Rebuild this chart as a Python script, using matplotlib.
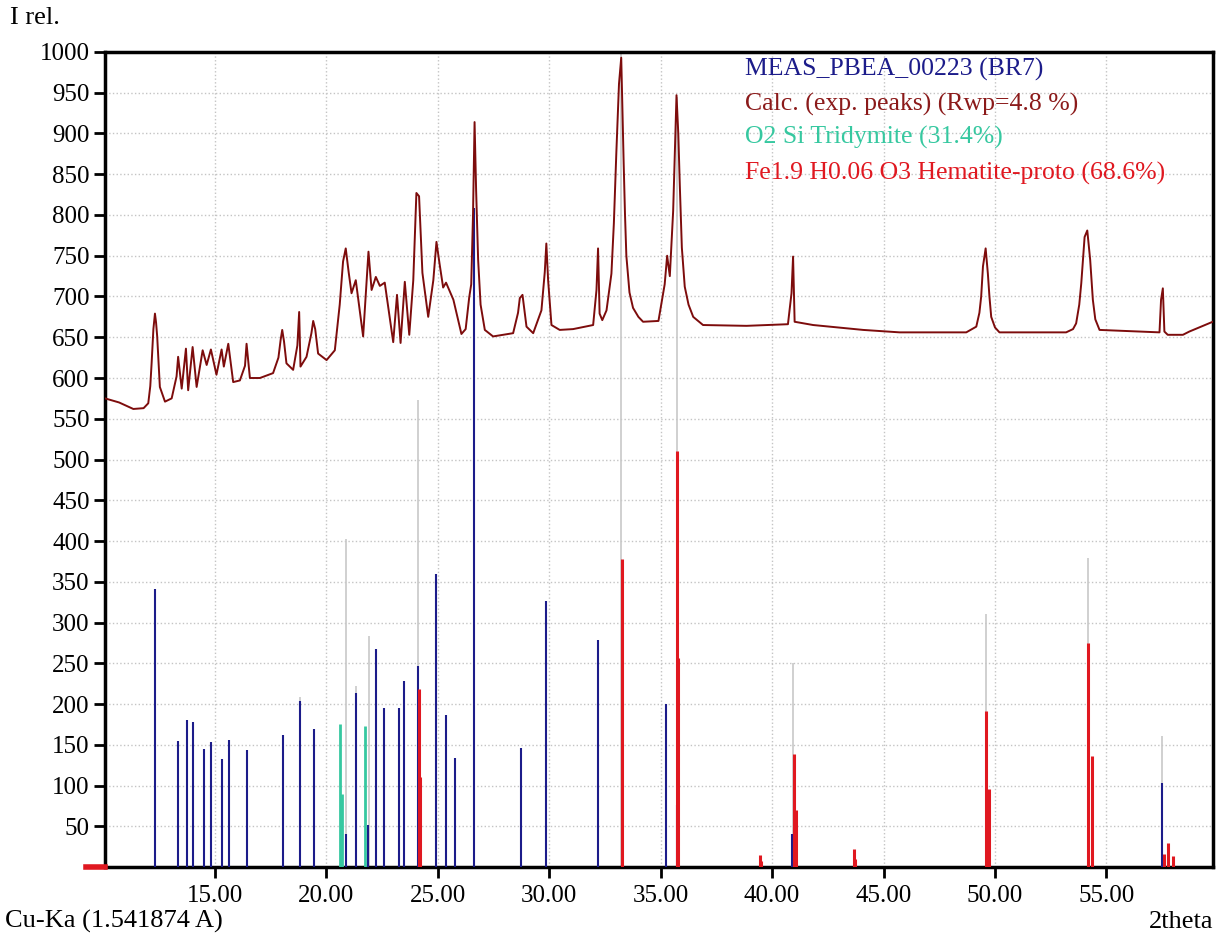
import matplotlib
matplotlib.use("Agg")
import matplotlib.pyplot as plt

plt.rcParams['font.family'] = ['Liberation Serif', 'DejaVu Serif']

# calculated profile (2theta, I rel.)
calc_2theta = [10.07, 10.7, 11.34, 11.8, 12.01, 12.10, 12.16, 12.24, 12.31, 12.36, 12.41, 12.53, 12.76,
               13.06, 13.28, 13.35, 13.51, 13.70, 13.80, 14.00, 14.18, 14.45, 14.63,
               14.82, 15.07, 15.30, 15.40, 15.60, 15.82, 16.12, 16.35, 16.42, 16.57, 17.02,
               17.61, 17.85, 17.95, 18.02, 18.10, 18.21, 18.51, 18.70, 18.78, 18.84, 19.11, 19.33, 19.41, 19.50, 19.63,
               20.01, 20.38, 20.60, 20.75, 20.87, 21.00, 21.13, 21.32, 21.65, 21.89, 22.03, 22.22,
               22.40, 22.62, 23.00, 23.17, 23.33, 23.52, 23.72, 23.90, 24.04, 24.16, 24.31,
               24.57, 24.80, 24.94, 25.08, 25.24, 25.37, 25.70, 26.06, 26.25, 26.41, 26.50, 26.58, 26.65,
               26.72, 26.81, 26.92, 27.11, 27.48, 28.38, 28.60, 28.68, 28.80, 28.90, 28.98, 29.28, 29.65, 29.80, 29.87,
               29.95, 30.10, 30.47, 31.07, 31.97, 32.12, 32.19, 32.26, 32.38, 32.57, 32.79, 32.90,
               33.01, 33.13, 33.23, 33.34, 33.40, 33.46, 33.60, 33.76, 34.00, 34.21, 34.90, 35.18, 35.29,
               35.41, 35.56, 35.64, 35.71, 35.79, 35.86, 35.95, 36.08, 36.25, 36.46, 36.90, 38.85, 40.71, 40.87,
               40.94, 41.01, 41.84, 44.08, 45.72, 48.71, 49.16, 49.30, 49.38, 49.46, 49.58,
               49.68, 49.75, 49.83, 50.00, 50.20, 53.19, 53.50, 53.64, 53.78, 53.87, 54.02, 54.14, 54.27, 54.33, 54.39,
               54.50, 54.69, 57.38, 57.45, 57.53, 57.60, 57.75, 58.43, 58.72, 59.77]
calc_int = [575, 570, 562, 563, 569, 590, 618, 660, 679, 668, 651, 589, 571,
            575, 602, 626, 587, 636, 585, 638, 589, 634, 616,
            635, 604, 635, 614, 642, 595, 597, 615, 642, 600, 600,
            606, 625, 647, 659, 645, 618, 610, 640, 681, 614, 626, 655, 670, 660, 630,
            622, 634, 690, 743, 759, 730, 704, 720, 651, 755, 708, 724,
            713, 717, 644, 702, 643, 718, 653, 720, 827, 823, 729,
            675, 720, 767, 740, 711, 717, 696, 654, 660, 699, 715, 800, 914,
            830, 745, 690, 659, 651, 655, 680, 698, 702, 680, 663, 655, 683, 730, 765,
            720, 665, 659, 660, 665, 708, 759, 679, 671, 683, 728, 790,
            876, 961, 993, 863, 800, 750, 705, 686, 675, 669, 670, 715, 750,
            725, 805, 880, 947, 900, 835, 760, 712, 690, 675, 665, 664, 666, 704,
            749, 669, 665, 659, 656, 656, 663, 680, 700, 737, 759,
            728, 700, 675, 662, 656, 656, 660, 667, 690, 716, 773, 781, 745, 720, 696,
            672, 659, 656, 696, 710, 657, 653, 653, 657, 669]

# measured peak positions (navy sticks)
meas_2theta = [12.31, 13.35, 13.73, 14.00, 14.49, 14.82, 15.33, 15.61, 16.45, 18.06,
               18.81, 19.45, 20.90, 21.33, 21.89, 22.24, 22.60, 23.24, 23.50, 24.13,
               24.91, 25.39, 25.75, 26.64, 28.73, 29.87, 32.19, 35.25, 35.72, 40.90,
               57.50]
meas_int = [341, 155, 180, 178, 145, 153, 132, 156, 144, 162,
            204, 169, 40, 214, 52, 267, 195, 195, 228, 247,
            360, 186, 134, 808, 146, 327, 278, 200, 76, 40,
            103]

# O2 Si Tridymite sticks
trid_2theta = [20.63, 20.69, 21.74]
trid_int = [175, 90, 173]

# Fe1.9 H0.06 O3 Hematite-proto sticks
hem_2theta = [24.17, 24.22, 33.28, 35.72, 35.78, 39.47, 39.52, 41.00, 41.05, 43.67,
              43.72, 49.60, 49.73, 54.17, 54.33, 57.56, 57.78, 57.97]
hem_int = [218, 110, 378, 510, 257, 15, 8, 139, 70, 22,
           10, 192, 96, 275, 136, 16, 29, 13]

# light grey sticks (sum of peaks)
sum_2theta = [18.81, 20.90, 21.33, 21.90, 24.13, 33.20, 35.72, 40.94, 49.60, 54.15, 57.50]
sum_int = [208, 402, 222, 283, 573, 1000, 945, 250, 310, 379, 161]

legend_labels = ["MEAS_PBEA_00223 (BR7)", "Calc. (exp. peaks) (Rwp=4.8 %)",
                 "O2 Si Tridymite (31.4%)", "Fe1.9 H0.06 O3 Hematite-proto (68.6%)"]

navy = '#1c1c8a'
calc_col = '#7d0c0c'
cyan = '#36c8a0'
red = '#e01820'
grey = '#c8c8c8'

fig = plt.figure(figsize=(12.17, 9.35), dpi=100)
ax = fig.add_axes([0.0863, 0.0727, 0.9104, 0.8717])

ax.vlines(sum_2theta, 0, sum_int, colors=grey, lw=1.2, zorder=2)
ax.vlines(meas_2theta, 0, meas_int, colors=navy, lw=1.5, zorder=3)
ax.vlines(trid_2theta, 0, trid_int, colors=cyan, lw=2.0, zorder=4)
ax.vlines(hem_2theta, 0, hem_int, colors=red, lw=2.2, zorder=5)
ax.plot(calc_2theta, calc_int, color=calc_col, lw=1.4, zorder=6)

# small red mark left of the origin
ax.plot([9.2, 10.07], [0, 0], color=red, lw=4, clip_on=False, zorder=7)

ax.set_xlim(10.07, 59.78)
ax.set_ylim(0, 1000)
xt = [15, 20, 25, 30, 35, 40, 45, 50, 55]
ax.set_xticks(xt)
ax.set_xticklabels(['%.2f' % v for v in xt])
ax.set_yticks(range(50, 1001, 50))
ax.tick_params(direction='out', length=8, width=2, labelsize=18, colors='black')
ax.tick_params(axis='x', pad=5)
ax.tick_params(axis='y', pad=3)
ax.grid(True, linestyle=':', color='#c4c4c4', lw=1)
for s in ax.spines.values():
    s.set_linewidth(2.5)

leg_cols = [navy, '#8b1a1a', cyan, red]
leg_y = [0.978, 0.936, 0.895, 0.851]
for lab, c, yy in zip(legend_labels, leg_cols, leg_y):
    ax.text(0.578, yy, lab, color=c, fontsize=18.5, transform=ax.transAxes,
            va='center', ha='left', zorder=8)

fig.text(0.008, 0.981, "I rel.", fontsize=19, va='center', ha='left')
fig.text(0.004, 0.014, "Cu-Ka (1.541874 A)", fontsize=19, va='center', ha='left')
fig.text(0.997, 0.014, "2theta", fontsize=19, va='center', ha='right')

fig.savefig("out.png", dpi=100)
